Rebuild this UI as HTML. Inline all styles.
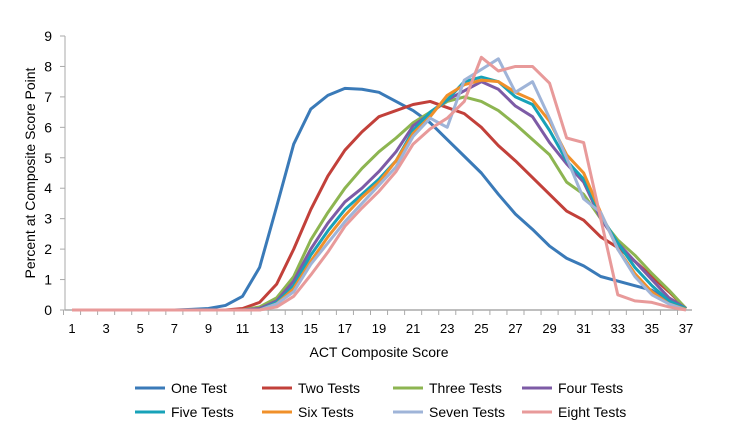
<!DOCTYPE html>
<html><head><meta charset="utf-8"><style>
body{margin:0;background:#fff;}
svg text{font-family:"Liberation Sans",sans-serif;fill:#000;}
</style></head><body>
<svg id="chart" width="729" height="434">
<g id="axes"></g><g id="series"></g><g id="legend"></g>
</svg>
<script>
const scores=[];for(let s=1;s<=37;s++)scores.push(s);
const yTicks=[0,1,2,3,4,5,6,7,8,9];
const xTickLabels=[1,3,5,7,9,11,13,15,17,19,21,23,25,27,29,31,33,35,37];
const seriesNames=["One Test","Two Tests","Three Tests","Four Tests","Five Tests","Six Tests","Seven Tests","Eight Tests"];
const colors=["#3a7ab8","#c2403a","#8db551","#7d5ba6","#17a2b8","#f0902a","#9fb4d8","#e89a9a"];
const z7=[0,0,0,0,0,0,0];
const oneTest=[...z7,0.02,0.05,0.15,0.45,1.4,3.4,5.45,6.6,7.05,7.28,7.25,7.15,6.85,6.55,6.15,5.6,5.05,4.5,3.8,3.15,2.65,2.1,1.7,1.45,1.1,0.95,0.8,0.65,0.3,0.05];
const twoTests=[...z7,0,0,0,0.05,0.25,0.85,2.0,3.3,4.4,5.25,5.85,6.35,6.55,6.75,6.85,6.65,6.45,6.0,5.4,4.9,4.35,3.8,3.25,2.95,2.4,2.05,1.6,1.1,0.6,0.05];
const threeTests=[...z7,0,0,0,0,0.1,0.4,1.1,2.3,3.2,4.0,4.65,5.2,5.65,6.15,6.5,6.85,7.0,6.85,6.55,6.1,5.6,5.1,4.2,3.8,3.0,2.3,1.8,1.2,0.65,0.05];
const fourTests=[...z7,0,0,0,0,0.05,0.3,0.95,2.0,2.85,3.55,4.0,4.55,5.2,6.05,6.45,6.9,7.2,7.5,7.25,6.7,6.35,5.5,4.8,4.2,3.0,2.2,1.6,1.0,0.4,0.05];
const fiveTests=[...z7,0,0,0,0,0,0.25,0.8,1.8,2.6,3.3,3.8,4.3,4.9,5.9,6.5,6.9,7.5,7.65,7.5,7.0,6.75,5.9,4.9,4.3,3.1,2.2,1.4,0.8,0.3,0.05];
const sixTests=[...z7,0,0,0,0,0,0.2,0.7,1.6,2.4,3.1,3.7,4.2,4.9,5.8,6.35,7.05,7.4,7.55,7.5,7.15,6.9,6.2,5.1,4.5,3.2,2.0,1.2,0.6,0.2,0.02];
const sevenTests=[...z7,0,0,0,0,0,0.2,0.6,1.5,2.2,2.9,3.5,4.1,4.7,5.7,6.3,6.0,7.55,7.9,8.25,7.15,7.5,6.3,5.0,3.65,3.2,2.0,1.1,0.5,0.2,0.0];
const eightTests=[...z7,0,0,0,0,0,0.1,0.45,1.15,1.9,2.75,3.35,3.9,4.55,5.45,5.95,6.3,6.85,8.3,7.85,8.0,8.0,7.45,5.65,5.5,3.0,0.5,0.3,0.25,0.1,0.0];
const allSeries=[oneTest,twoTests,threeTests,fourTests,fiveTests,sixTests,sevenTests,eightTests];

const NS="http://www.w3.org/2000/svg";
const X0=72,X1=686,Y0=310,Y1=36;
const xS=s=>X0+(s-1)*(X1-X0)/36;
const yS=v=>Y0-v*(Y0-Y1)/9;
function mk(tag,attrs,parent){const e=document.createElementNS(NS,tag);for(const k in attrs)e.setAttribute(k,attrs[k]);parent.appendChild(e);return e;}
const axes=document.getElementById('axes');
let e=mk('line',{x1:65,y1:36,x2:65,y2:Y0,stroke:'#aaa','stroke-width':1},axes);


e=mk('line',{x1:65,y1:Y0,x2:692,y2:Y0,stroke:'#aaa','stroke-width':1.5},axes);


yTicks.forEach(v=>{
  mk('line',{x1:60,y1:yS(v),x2:65,y2:yS(v),stroke:'#aaa'},axes);
  const t=mk('text',{x:52,y:yS(v)+5,'text-anchor':'end','font-size':14},axes);t.textContent=v;
  
  
});
scores.forEach(s=>{mk('line',{x1:xS(s)-8.5,y1:Y0,x2:xS(s)-8.5,y2:Y0+5,stroke:'#aaa'},axes);});
xTickLabels.forEach(s=>{
  const t=mk('text',{x:xS(s),y:333,'text-anchor':'middle','font-size':13},axes);t.textContent=s;
  
  
});
e=mk('text',{x:379,y:357,'text-anchor':'middle','font-size':14},axes);e.textContent='ACT Composite Score';


e=mk('text',{x:0,y:0,'text-anchor':'middle','font-size':14,transform:'translate(35,173) rotate(-90)'},axes);e.textContent='Percent at Composite Score Point';


const sg=document.getElementById('series');
allSeries.forEach((d,i)=>{
  const p=mk('polyline',{points:d.map((v,j)=>xS(scores[j])+','+yS(v)).join(' '),fill:'none',stroke:colors[i],'stroke-width':3,'stroke-linejoin':'round'},sg);
  
  
});
const lg=document.getElementById('legend');
const colX=[135,262,393,522],rowY=[393,417];
seriesNames.forEach((n,i)=>{
  const g=mk('g',{},lg);
  
  
  const x=colX[i%4],y=rowY[Math.floor(i/4)];
  mk('line',{x1:x,y1:y-5,x2:x+30,y2:y-5,stroke:colors[i],'stroke-width':3},g);
  const t=mk('text',{x:x+36,y:y,'font-size':14},g);t.textContent=n;
});
</script>
</body></html>
